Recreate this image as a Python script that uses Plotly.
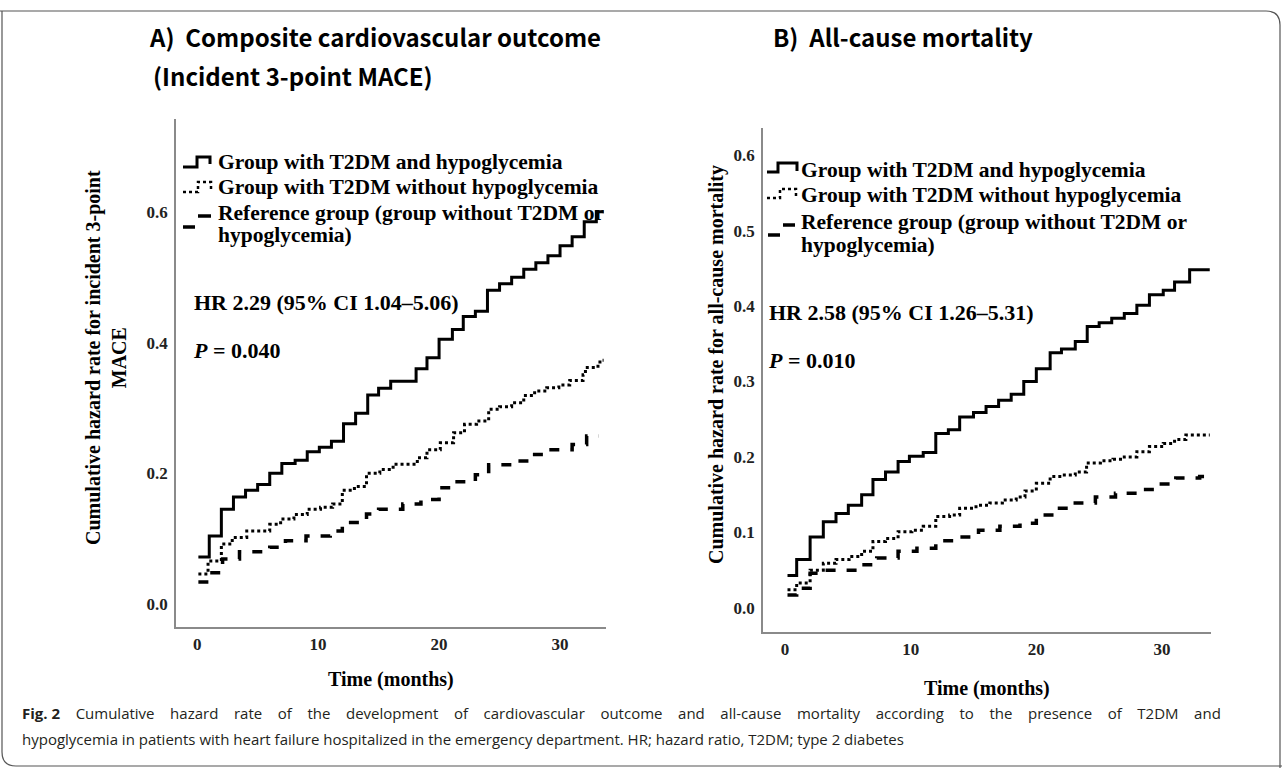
import plotly.graph_objects as go

# ---------------- data ----------------
# Panel A: composite cardiovascular outcome (incident 3-point MACE)
a_hypo_t = [0.1, 1.0, 2.0, 3.0, 4.0, 5.0, 6.0, 7.0, 8.1, 9.1, 10.1, 11.1, 12.1, 13.1, 14.1, 15.0, 16.0,
            18.1, 19.0, 20.0, 21.1, 22.0, 23.0, 24.0, 25.0, 26.0, 27.0, 28.0, 29.0, 30.0, 31.0, 32.0, 33.0, 33.6]
a_hypo_v = [0.072, 0.104, 0.145, 0.164, 0.174, 0.183, 0.200, 0.215, 0.220, 0.233, 0.240, 0.249, 0.276, 0.292,
            0.320, 0.330, 0.341, 0.360, 0.377, 0.405, 0.420, 0.440, 0.448, 0.480, 0.490, 0.500, 0.512, 0.522,
            0.533, 0.548, 0.562, 0.585, 0.600, 0.600]
a_nohypo_t = [0.1, 0.9, 2.0, 2.9, 4.1, 6.0, 6.9, 8.0, 9.1, 10.2, 11.2, 12.0, 13.0, 14.0, 15.1, 16.2, 18.2,
              19.0, 20.1, 21.2, 22.1, 23.1, 24.1, 25.0, 26.0, 27.0, 27.9, 28.9, 29.9, 30.8, 31.9, 32.1, 33.0, 33.3, 33.6]
a_nohypo_v = [0.046, 0.066, 0.092, 0.102, 0.112, 0.122, 0.130, 0.137, 0.145, 0.148, 0.153, 0.174, 0.180, 0.200,
              0.206, 0.214, 0.224, 0.236, 0.247, 0.262, 0.275, 0.280, 0.298, 0.302, 0.308, 0.319, 0.326, 0.331,
              0.335, 0.342, 0.351, 0.362, 0.364, 0.373, 0.373]
a_ref_t = [0.1, 1.07, 2.1, 3.5, 6.0, 7.3, 9.0, 11.0, 12.0, 14.0, 15.0, 17.0, 18.5, 20.0, 21.2, 23.0, 24.1,
           26.0, 27.6, 29.1, 31.0, 32.2, 33.2]
a_ref_v = [0.034, 0.048, 0.069, 0.080, 0.087, 0.097, 0.104, 0.112, 0.125, 0.138, 0.145, 0.153, 0.160, 0.178,
           0.187, 0.198, 0.213, 0.219, 0.229, 0.236, 0.244, 0.257, 0.257]

# Panel B: all-cause mortality
b_hypo_t = [0.2, 0.93, 2.0, 3.05, 4.06, 5.04, 6.1, 7.0, 8.0, 9.0, 9.9, 11.0, 12.0, 13.0, 13.9, 15.0, 16.0,
            17.0, 18.0, 19.0, 20.0, 21.1, 22.0, 23.1, 24.05, 25.0, 26.0, 27.0, 28.0, 29.0, 30.1, 31.0, 32.2, 33.8]
b_hypo_v = [0.043, 0.064, 0.094, 0.114, 0.125, 0.136, 0.150, 0.170, 0.180, 0.194, 0.201, 0.206, 0.231, 0.236,
            0.253, 0.259, 0.267, 0.275, 0.283, 0.300, 0.317, 0.338, 0.343, 0.353, 0.373, 0.378, 0.384, 0.390,
            0.401, 0.415, 0.421, 0.432, 0.448, 0.448]
b_nohypo_t = [0.2, 0.93, 2.0, 3.05, 4.06, 5.1, 6.1, 7.0, 8.0, 9.0, 10.1, 11.0, 12.0, 13.1, 13.9, 15.2, 16.3,
              17.3, 18.4, 19.1, 20.0, 21.1, 22.0, 23.1, 24.0, 25.1, 26.1, 27.0, 28.0, 29.0, 30.1, 31.0, 31.9, 33.8]
b_nohypo_v = [0.024, 0.033, 0.050, 0.059, 0.064, 0.068, 0.075, 0.088, 0.092, 0.101, 0.103, 0.108, 0.121, 0.123,
              0.132, 0.136, 0.139, 0.143, 0.147, 0.155, 0.165, 0.174, 0.176, 0.180, 0.192, 0.195, 0.197, 0.200,
              0.207, 0.214, 0.218, 0.223, 0.229, 0.229]
b_ref_t = [0.2, 0.93, 2.0, 3.0, 6.1, 7.3, 9.0, 10.5, 12.0, 13.8, 15.4, 17.1, 18.7, 20.0, 21.4, 23.1, 24.7,
           26.3, 28.0, 29.7, 31.1, 33.0, 33.8]
b_ref_v = [0.017, 0.026, 0.046, 0.050, 0.057, 0.066, 0.075, 0.079, 0.089, 0.094, 0.103, 0.108, 0.112, 0.123,
           0.132, 0.139, 0.147, 0.152, 0.157, 0.164, 0.172, 0.174, 0.174]

group_names = ["Group with T2DM and hypoglycemia",
               "Group with T2DM without hypoglycemia",
               "Reference group (group without T2DM or",
               "hypoglycemia)"]
x_ticks = [0, 10, 20, 30]
a_y_ticks = [0.0, 0.2, 0.4, 0.6]
b_y_ticks = [0.0, 0.1, 0.2, 0.3, 0.4, 0.5, 0.6]

caption_1 = ["<b>Fig. 2</b>", "Cumulative", "hazard", "rate", "of", "the", "development", "of", "cardiovascular",
             "outcome", "and", "all-cause", "mortality", "according", "to", "the", "presence", "of", "T2DM", "and"]
caption_2 = ("hypoglycemia in patients with heart failure hospitalized in the emergency department. "
             "HR; hazard ratio, T2DM; type 2 diabetes")

# ---------------- figure ----------------
W, H = 1282, 768
SERIF = "Liberation Serif"
line_styles = [dict(color="black", width=3, dash="solid"),
               dict(color="black", width=3, dash="dot"),
               dict(color="black", width=3.5, dash="10px,11px")]

fig = go.Figure()
panels = [
    ("x", "y", [(a_hypo_t, a_hypo_v), (a_nohypo_t, a_nohypo_v), (a_ref_t, a_ref_v)]),
    ("x2", "y2", [(b_hypo_t, b_hypo_v), (b_nohypo_t, b_nohypo_v), (b_ref_t, b_ref_v)]),
]
for xa, ya, series in panels:
    for (t, v), name, ls in zip(series, group_names, line_styles):
        fig.add_trace(go.Scatter(x=t, y=v, mode="lines", line=dict(shape="hv", **ls),
                                 name=name.replace("(group without T2DM or", "(group without T2DM or hypoglycemia)"),
                                 xaxis=xa, yaxis=ya, showlegend=False))


def px_x(p):
    return p / W


def px_y(p):
    return 1 - p / H


tickfont = dict(family=SERIF, size=17, color="#222", weight="bold")
axis_common = dict(showline=True, linecolor="#8a8a8a", linewidth=1.5, showgrid=False,
                   zeroline=False, ticks="", tickfont=tickfont, mirror=False)

fig.update_layout(
    width=W, height=H,
    margin=dict(l=0, r=0, t=0, b=0),
    paper_bgcolor="white", plot_bgcolor="white",
    showlegend=False,
    xaxis=dict(domain=[px_x(176), px_x(606)], range=[-1.75, 33.8], tickvals=x_ticks,
               anchor="y", ticklabelstandoff=1, **axis_common),
    yaxis=dict(domain=[px_y(627), px_y(119)], range=[-0.035, 0.742], tickvals=a_y_ticks,
               tickformat=".1f", anchor="x", ticklabelstandoff=3, **axis_common),
    xaxis2=dict(domain=[px_x(763), px_x(1211)], range=[-1.75, 33.9], tickvals=x_ticks,
                anchor="y2", ticklabelstandoff=1, **axis_common),
    yaxis2=dict(domain=[px_y(632), px_y(128)], range=[-0.032, 0.636], tickvals=b_y_ticks,
                tickformat=".1f", anchor="x2", ticklabelstandoff=3, **axis_common),
)

serif_b = lambda s: dict(family=SERIF, size=s, color="black", weight="bold")
title_font = dict(family="Noto Sans CJK KR", size=24, color="black", weight="bold")
cap_font = dict(family="Open Sans", size=15, color="#231f20")
nb = "\u00a0"
annotations = [
    dict(text="A)  Composite cardiovascular outcome", x=147, y=36, xanchor="left", font=title_font),
    dict(text="(Incident 3-point MACE)", x=151, y=75, xanchor="left", font=title_font),
    dict(text="B)  All-cause mortality", x=771, y=36, xanchor="left", font=title_font),
    dict(text="HR 2.29 (95% CI 1.04\u20135.06)", x=192, y=302, xanchor="left", font=serif_b(22)),
    dict(text="<i>P</i> = 0.040", x=191, y=350, xanchor="left", font=serif_b(22)),
    dict(text="HR 2.58 (95% CI 1.26\u20135.31)", x=767, y=313, xanchor="left", font=serif_b(22)),
    dict(text="<i>P</i> = 0.010", x=766, y=361, xanchor="left", font=serif_b(22)),
    dict(text="Cumulative hazard rate for incident 3-point<br>MACE", x=106, y=358,
         xanchor="center", textangle=-90, font=serif_b(20)),
    dict(text="Cumulative hazard rate for all-cause mortality", x=716, y=365,
         xanchor="center", textangle=-90, font=serif_b(20)),
    dict(text="Time (months)", x=391, y=679, xanchor="center", font=serif_b(20)),
    dict(text="Time (months)", x=987, y=688, xanchor="center", font=serif_b(20)),
    dict(text=(" " + nb * 3).join(caption_1), x=20, y=713, xanchor="left", font=cap_font),
    dict(text=caption_2, x=20, y=739, xanchor="left", font=cap_font),
]
# legend texts (drawn as a key inside each panel, as in the reference)
legend_rows_a = [162, 187, 213, 235]
legend_rows_b = [170, 195, 222, 245]
for name, ya, yb in zip(group_names, legend_rows_a, legend_rows_b):
    annotations.append(dict(text=name, x=216, y=ya, xanchor="left", font=serif_b(21.5)))
    annotations.append(dict(text=name, x=799, y=yb, xanchor="left", font=serif_b(21.5)))

for a in annotations:
    a["x"] = px_x(a["x"])
    a["y"] = px_y(a["y"])
    fig.add_annotation(xref="paper", yref="paper", showarrow=False, align="center",
                       yanchor="middle", **a)


def ppath(points):
    return "M " + " L ".join(f"{px_x(x):.5f} {px_y(y):.5f}" for x, y in points)


# legend key symbols (step glyphs like the SPSS key)
key_shapes = [
    ([(183, 167), (197, 167), (197, 157), (210, 157), (210, 164)], dict(color="black", width=3)),
    ([(183, 192), (198, 192), (198, 182), (211, 182), (211, 190)], dict(color="black", width=2.5, dash="dot")),
    ([(183, 227), (195, 227)], dict(color="black", width=3.5)),
    ([(198, 216), (211, 216)], dict(color="black", width=3.5)),
    ([(767, 172), (778, 172), (778, 163), (797, 163), (797, 171)], dict(color="black", width=3)),
    ([(767, 198), (780, 198), (780, 189), (796, 189), (796, 197)], dict(color="black", width=2.5, dash="dot")),
    ([(768, 235), (780, 235)], dict(color="black", width=3.5)),
    ([(783, 225), (795, 225)], dict(color="black", width=3.5)),
]
for pts, ln in key_shapes:
    fig.add_shape(type="path", xref="paper", yref="paper", path=ppath(pts), line=ln)

# figure frame (top-right and bottom-left rounded corners)
fig.add_shape(type="path", xref="paper", yref="paper", line=dict(color="#555", width=1.2),
              path=f"M 0 {px_y(11)} L {px_x(1266)} {px_y(11)} Q {px_x(1280)} {px_y(11)} {px_x(1280)} {px_y(25)} L {px_x(1280)} {px_y(768)}")
fig.add_shape(type="path", xref="paper", yref="paper", line=dict(color="#555", width=1.2),
              path=f"M {px_x(2)} {px_y(11)} L {px_x(2)} {px_y(752)} Q {px_x(2)} {px_y(766)} {px_x(16)} {px_y(766)} L {px_x(1282)} {px_y(766)}")

fig.write_html("out.html", config={"displayModeBar": False},
               post_script="document.body.style.margin='0';document.body.style.overflow='hidden';")
